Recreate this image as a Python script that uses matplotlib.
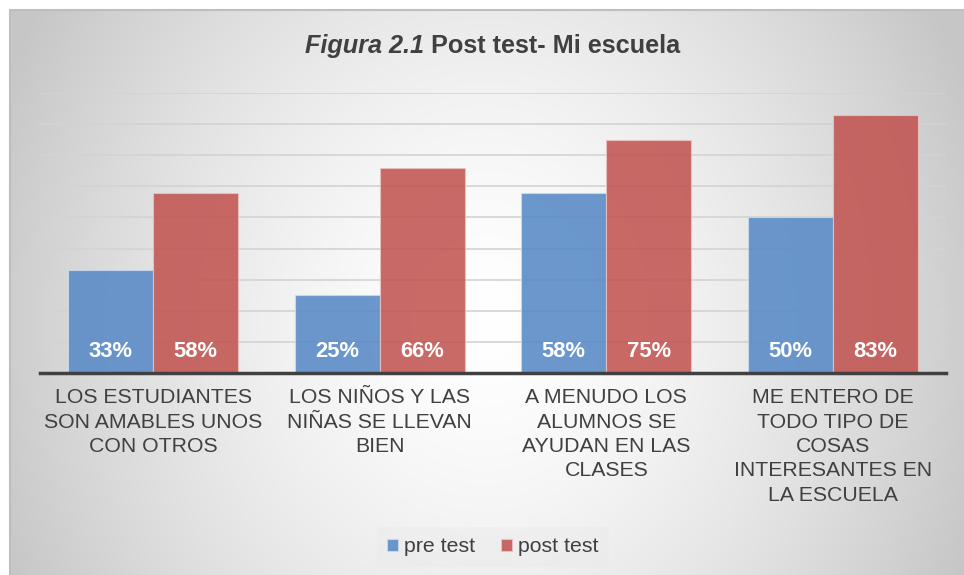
import numpy as np
import matplotlib
matplotlib.use("Agg")
import matplotlib.pyplot as plt

categories = [
    "LOS ESTUDIANTES\nSON AMABLES UNOS\nCON OTROS",
    "LOS NIÑOS Y LAS\nNIÑAS SE LLEVAN\nBIEN",
    "A MENUDO LOS\nALUMNOS SE\nAYUDAN EN LAS\nCLASES",
    "ME ENTERO DE\nTODO TIPO DE\nCOSAS\nINTERESANTES EN\nLA ESCUELA",
]
pre_test = [33, 25, 58, 50]
post_test = [58, 66, 75, 83]

plt.rcParams['font.family'] = ['Liberation Sans', 'DejaVu Sans']

W, H = 964, 575
fig = plt.figure(figsize=(W / 100, H / 100), dpi=100)

# background: radial gradient inside a framed chart area
bg = fig.add_axes([0, 0, 1, 1])
bg.set_xlim(0, W)
bg.set_ylim(H, 0)
bg.axis('off')
yy, xx = np.mgrid[0:H, 0:W]
r = np.sqrt(((xx - 485) / 520.0) ** 2 + ((yy - 320) / 600.0) ** 2)
shade = 1.0 - 0.22 * np.clip(r, 0, 1) ** 1.5
img = np.dstack([shade, shade, shade])
img[:10, :, :] = 1.0
img[:, :10, :] = 1.0
bg.imshow(img, extent=(0, W, H, 0), aspect='auto', interpolation='bilinear')
bg.plot([10, 10, W], [H, 10, 10], color='#BEBEBE', lw=1.5)

ax = fig.add_axes([40 / W, 1 - 373 / H, (946 - 40) / W, (373 - 93) / H])
ax.patch.set_alpha(0)
x = np.arange(len(categories))
w = 0.375
b1 = ax.bar(x - w / 2, pre_test, w, color='#5B8CC8', alpha=0.9,
            edgecolor='#C9D9EE', linewidth=0.8, zorder=2)
b2 = ax.bar(x + w / 2, post_test, w, color='#C0504D', alpha=0.85,
            edgecolor='#EBC3C2', linewidth=0.8, zorder=2)

for xi, v in zip(x, pre_test):
    ax.text(xi - w / 2, 7, f"{v}%", ha='center', va='center', color='white',
            fontsize=15.8, fontweight='bold', zorder=3)
for xi, v in zip(x, post_test):
    ax.text(xi + w / 2, 7, f"{v}%", ha='center', va='center', color='white',
            fontsize=15.8, fontweight='bold', zorder=3)

ax.set_xlim(-0.5, len(categories) - 0.5)
ax.set_ylim(0, 90)
ax.set_yticks(np.arange(10, 91, 10))
ax.yaxis.grid(True, color='#D3D3D3', lw=1.2, zorder=0)
ax.set_axisbelow(True)
ax.tick_params(axis='y', left=False, labelleft=False)
ax.set_xticks(x)
ax.set_xticklabels(categories, fontsize=15.3, color='#404040', linespacing=1.36)
ax.tick_params(axis='x', length=0, pad=11)
for s in ['top', 'right', 'left']:
    ax.spines[s].set_visible(False)
ax.spines['bottom'].set_color('#404040')
ax.spines['bottom'].set_linewidth(2.5)

leg = fig.legend([b1, b2], ['pre test', 'post test'], loc='center',
                 bbox_to_anchor=(493 / W, 1 - 547 / H), ncol=2, frameon=True,
                 fontsize=15.3, handlelength=0.5, handleheight=0.5,
                 handletextpad=0.3, columnspacing=1.2, borderpad=0.5)
leg.get_frame().set_facecolor('#E8E8E8')
leg.get_frame().set_edgecolor('none')
leg.get_frame().set_alpha(0.3)
for t in leg.get_texts():
    t.set_color('#404040')

fig.text(424 / W, 1 - 46 / H, "Figura 2.1", ha='right', va='center',
         fontsize=18.2, fontweight='bold', fontstyle='italic', color='#404040')
fig.text(424 / W, 1 - 46 / H, " Post test- Mi escuela", ha='left', va='center',
         fontsize=18.2, fontweight='bold', color='#404040')

fig.savefig("out.png", dpi=100)
